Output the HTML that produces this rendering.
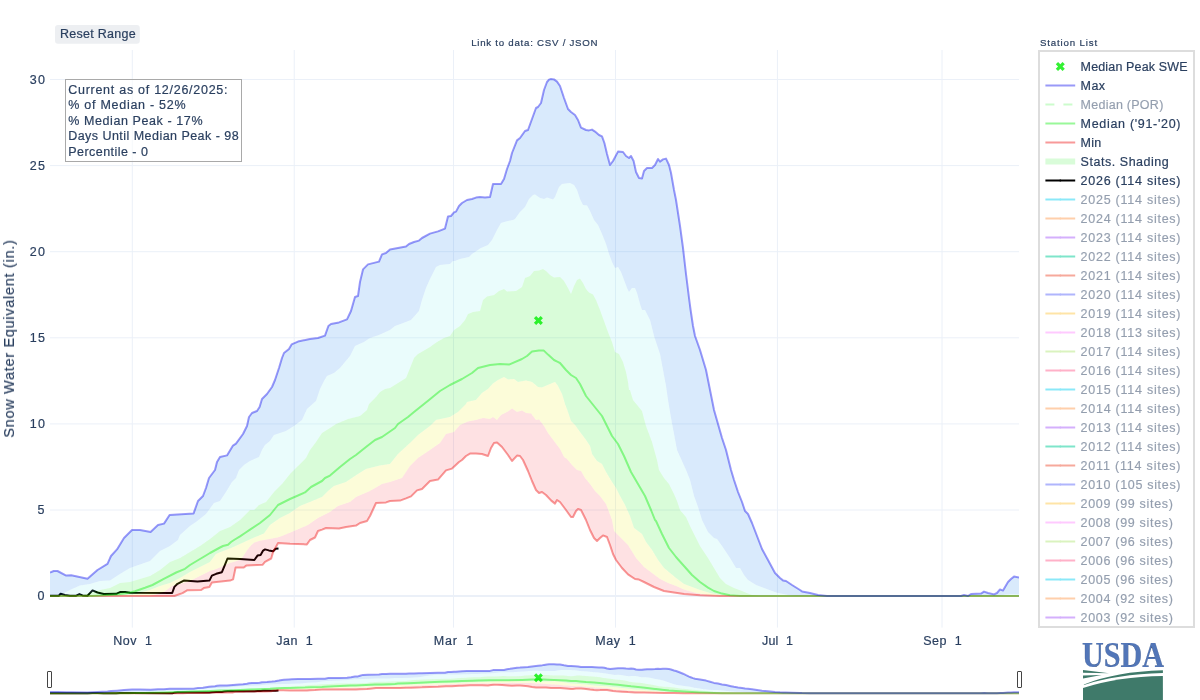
<!DOCTYPE html>
<html><head><meta charset="utf-8"><title>SWE</title>
<style>
html,body{margin:0;padding:0;background:#fff;}
svg{display:block;font-family:"Liberation Sans",sans-serif;}
text{white-space:pre;stroke:#2a3f5f;stroke-width:0.2px;}
</style></head><body>
<svg width="1200" height="700" viewBox="0 0 1200 700">
<rect width="1200" height="700" fill="#fff"/>
<defs>
<clipPath id="pc"><rect x="50" y="50" width="969" height="577.6"/></clipPath>
<clipPath id="sc"><rect x="50" y="662.6" width="969" height="32.5"/></clipPath>
<filter id="ga" filterUnits="userSpaceOnUse" x="0" y="0" width="1200" height="700" color-interpolation-filters="sRGB"><feOffset dx="0" dy="0"/></filter>
</defs>
<g filter="url(#ga)">
<g stroke="#EBF0F8" stroke-width="1">
<line x1="132.3" y1="50" x2="132.3" y2="627.6"/>
<line x1="294.24" y1="50" x2="294.24" y2="627.6"/>
<line x1="453.53" y1="50" x2="453.53" y2="627.6"/>
<line x1="615.47" y1="50" x2="615.47" y2="627.6"/>
<line x1="777.42" y1="50" x2="777.42" y2="627.6"/>
<line x1="942.01" y1="50" x2="942.01" y2="627.6"/>
<line x1="50" y1="79.5" x2="1019" y2="79.5"/>
<line x1="50" y1="165.6" x2="1019" y2="165.6"/>
<line x1="50" y1="251.7" x2="1019" y2="251.7"/>
<line x1="50" y1="337.8" x2="1019" y2="337.8"/>
<line x1="50" y1="423.9" x2="1019" y2="423.9"/>
<line x1="50" y1="510.0" x2="1019" y2="510.0"/>
<line x1="50" y1="596.1" x2="1019" y2="596.1" stroke-width="2"/>
</g>
<g clip-path="url(#pc)">
<path d="M50.0,595.7 L58.8,595.7 L60.6,593.8 L65.0,595.0 L70.0,595.7 L76.2,595.7 L79.4,594.1 L82.5,595.4 L87.5,595.7 L92.5,590.4 L97.5,592.5 L103.8,594.0 L116.2,593.8 L120.0,592.1 L125.0,591.9 L130.0,592.8 L172.2,593.0 L174.4,586.9 L177.5,583.8 L183.8,580.6 L197.5,581.5 L209.4,580.6 L211.9,575.6 L216.2,573.8 L221.9,572.2 L224.4,566.2 L227.5,558.5 L240.0,559.0 L254.4,560.0 L257.5,555.6 L260.6,555.0 L263.1,550.6 L265.0,549.4 L268.8,550.4 L273.1,551.2 L275.6,548.8 L278.5,548.5" fill="none" stroke="#000" stroke-width="2" stroke-linejoin="round"/>
<path d="M50.0,572.5 L53.8,571.0 L57.5,571.0 L66.2,575.6 L71.2,575.2 L87.5,578.8 L97.5,570.0 L107.5,563.8 L111.0,556.0 L117.0,549.4 L124.0,538.0 L132.0,530.0 L140.0,530.0 L150.6,532.0 L158.0,525.0 L164.0,523.6 L169.6,515.0 L193.6,513.4 L198.0,501.0 L203.0,496.0 L206.0,488.0 L209.0,478.0 L215.0,470.0 L217.0,462.0 L220.0,457.0 L227.0,455.4 L233.0,445.6 L236.0,443.6 L243.0,434.0 L247.0,426.0 L249.0,417.0 L252.0,413.0 L257.0,411.0 L259.6,407.0 L262.0,399.0 L267.0,394.0 L272.0,387.0 L275.0,380.0 L279.0,368.0 L282.0,358.0 L284.0,353.0 L289.0,349.0 L291.6,344.4 L298.0,341.6 L310.0,339.0 L318.0,338.0 L325.0,335.6 L328.4,326.0 L331.0,324.0 L339.0,322.4 L347.0,319.4 L351.0,311.0 L355.0,297.0 L358.0,296.0 L360.0,282.0 L363.0,269.4 L368.0,264.4 L379.0,261.6 L382.0,254.4 L386.0,253.0 L390.0,249.6 L398.0,248.0 L406.0,246.6 L409.0,244.0 L414.0,242.0 L419.0,240.6 L422.0,238.0 L430.0,233.6 L438.0,231.4 L445.0,228.6 L448.0,216.4 L451.0,216.0 L454.0,212.4 L456.0,211.6 L459.0,206.0 L462.0,203.0 L467.0,200.0 L472.0,199.0 L476.0,197.6 L480.0,197.0 L485.0,197.6 L490.0,197.0 L493.0,184.0 L501.0,184.0 L504.0,179.0 L507.0,169.0 L510.0,161.0 L512.0,153.0 L517.0,140.4 L520.0,138.0 L525.0,131.0 L528.0,130.0 L532.0,119.0 L536.0,108.0 L538.0,107.0 L541.0,103.0 L544.0,90.0 L547.0,82.0 L549.0,79.6 L551.0,79.0 L554.0,79.4 L557.0,81.6 L560.0,86.0 L564.0,98.0 L568.0,109.0 L571.0,112.0 L575.0,115.0 L578.0,120.0 L581.0,127.6 L586.0,130.0 L589.0,130.4 L592.0,129.6 L595.0,131.6 L599.0,135.0 L602.0,136.4 L604.4,143.0 L607.0,154.0 L610.0,165.0 L613.0,161.0 L618.0,151.6 L623.0,152.0 L626.0,156.0 L629.0,158.0 L631.0,156.0 L633.6,161.0 L636.0,172.0 L639.0,178.0 L642.0,178.4 L644.0,171.0 L647.0,168.0 L652.0,168.0 L655.0,165.0 L658.0,159.0 L660.0,161.6 L663.0,159.4 L666.0,158.6 L669.0,165.0 L671.0,173.0 L674.0,190.0 L676.0,200.0 L680.0,226.0 L683.0,248.0 L686.0,274.0 L689.0,298.0 L690.6,310.0 L693.0,326.0 L695.0,336.0 L700.0,350.0 L706.0,370.0 L710.0,390.0 L714.0,410.0 L718.0,424.0 L722.0,438.0 L726.0,450.0 L731.0,470.0 L734.0,480.0 L738.0,492.0 L742.0,502.0 L745.0,511.0 L748.0,514.0 L752.0,523.0 L757.0,536.0 L762.0,549.0 L768.0,560.0 L775.0,573.0 L780.0,578.0 L783.0,580.4 L786.0,581.0 L792.0,585.0 L800.0,590.0 L802.0,591.4 L810.0,593.0 L818.0,595.0 L827.0,596.0 L961.0,596.0 L964.0,595.0 L968.0,596.0 L971.0,594.0 L981.0,593.6 L984.0,591.6 L988.0,593.0 L994.0,594.4 L997.0,593.0 L1000.0,589.4 L1003.0,590.6 L1008.0,582.0 L1011.0,579.0 L1014.0,576.6 L1019.0,577.4 L1019.0,594.4 L1012.0,594.2 L1005.0,594.7 L998.0,596.0 L810.0,596.0 L796.0,596.0 L788.0,595.0 L778.0,593.0 L772.0,591.0 L764.0,588.0 L756.0,585.0 L748.0,580.0 L744.0,575.0 L740.0,568.0 L736.0,568.0 L730.0,558.0 L722.0,546.0 L717.0,539.0 L714.0,538.0 L708.0,532.0 L702.0,520.0 L698.0,507.0 L694.0,496.0 L690.0,480.0 L686.0,470.0 L677.0,450.0 L674.0,434.0 L671.0,418.0 L668.0,400.0 L666.0,386.0 L663.0,370.0 L660.0,354.0 L654.0,336.0 L650.0,320.0 L648.0,316.0 L645.0,310.0 L642.0,310.0 L640.0,304.0 L637.0,293.0 L635.0,288.0 L632.0,288.0 L629.0,292.0 L627.0,288.0 L624.0,280.0 L621.0,272.0 L618.0,267.0 L615.0,268.0 L612.0,262.0 L609.0,254.0 L606.0,244.0 L602.0,234.0 L598.0,225.0 L594.0,220.0 L590.0,211.0 L587.0,205.6 L583.0,205.0 L580.0,199.0 L577.0,190.0 L574.0,185.0 L570.0,183.0 L562.0,184.0 L559.0,187.0 L555.0,197.0 L553.0,199.6 L550.0,198.6 L547.0,197.6 L544.0,199.0 L540.0,198.0 L535.0,194.4 L533.0,195.0 L529.0,199.0 L525.0,207.0 L520.0,212.0 L515.0,219.0 L513.0,220.0 L508.0,221.0 L501.0,223.0 L497.0,230.0 L492.0,240.0 L488.0,245.0 L480.0,248.4 L478.0,250.0 L472.0,254.0 L469.0,257.0 L460.0,259.0 L455.0,261.0 L453.0,261.0 L450.0,264.0 L440.0,265.0 L436.0,267.0 L430.0,279.0 L426.0,288.0 L422.0,300.0 L419.0,311.0 L411.0,320.0 L402.0,323.6 L395.0,326.0 L390.0,330.0 L379.0,335.0 L370.0,338.0 L364.0,342.0 L355.0,346.0 L350.0,356.0 L345.0,362.0 L340.0,368.0 L334.0,373.0 L327.0,376.0 L324.0,381.0 L320.0,389.0 L316.0,401.0 L307.0,409.0 L302.0,420.0 L294.0,426.0 L286.0,431.0 L274.0,435.0 L270.0,441.0 L265.0,445.0 L262.0,450.0 L259.0,457.0 L250.0,461.0 L244.0,465.0 L239.0,470.0 L236.0,478.0 L232.0,482.0 L226.0,492.0 L220.0,501.0 L214.0,503.0 L206.0,514.0 L196.0,522.0 L190.0,526.0 L180.0,535.0 L178.0,540.0 L170.0,546.0 L160.0,551.0 L155.0,556.0 L150.0,561.0 L140.0,564.4 L130.0,568.0 L120.0,574.0 L110.0,580.4 L100.0,581.0 L90.0,584.0 L80.0,585.6 L70.0,590.0 L60.0,595.0 L50.0,596.0Z" fill="rgba(0,115,237,0.15)" stroke="none"/>
<path d="M50.0,596.0 L60.0,595.0 L70.0,590.0 L80.0,585.6 L90.0,584.0 L100.0,581.0 L110.0,580.4 L120.0,574.0 L130.0,568.0 L140.0,564.4 L150.0,561.0 L155.0,556.0 L160.0,551.0 L170.0,546.0 L178.0,540.0 L180.0,535.0 L190.0,526.0 L196.0,522.0 L206.0,514.0 L214.0,503.0 L220.0,501.0 L226.0,492.0 L232.0,482.0 L236.0,478.0 L239.0,470.0 L244.0,465.0 L250.0,461.0 L259.0,457.0 L262.0,450.0 L265.0,445.0 L270.0,441.0 L274.0,435.0 L286.0,431.0 L294.0,426.0 L302.0,420.0 L307.0,409.0 L316.0,401.0 L320.0,389.0 L324.0,381.0 L327.0,376.0 L334.0,373.0 L340.0,368.0 L345.0,362.0 L350.0,356.0 L355.0,346.0 L364.0,342.0 L370.0,338.0 L379.0,335.0 L390.0,330.0 L395.0,326.0 L402.0,323.6 L411.0,320.0 L419.0,311.0 L422.0,300.0 L426.0,288.0 L430.0,279.0 L436.0,267.0 L440.0,265.0 L450.0,264.0 L453.0,261.0 L455.0,261.0 L460.0,259.0 L469.0,257.0 L472.0,254.0 L478.0,250.0 L480.0,248.4 L488.0,245.0 L492.0,240.0 L497.0,230.0 L501.0,223.0 L508.0,221.0 L513.0,220.0 L515.0,219.0 L520.0,212.0 L525.0,207.0 L529.0,199.0 L533.0,195.0 L535.0,194.4 L540.0,198.0 L544.0,199.0 L547.0,197.6 L550.0,198.6 L553.0,199.6 L555.0,197.0 L559.0,187.0 L562.0,184.0 L570.0,183.0 L574.0,185.0 L577.0,190.0 L580.0,199.0 L583.0,205.0 L587.0,205.6 L590.0,211.0 L594.0,220.0 L598.0,225.0 L602.0,234.0 L606.0,244.0 L609.0,254.0 L612.0,262.0 L615.0,268.0 L618.0,267.0 L621.0,272.0 L624.0,280.0 L627.0,288.0 L629.0,292.0 L632.0,288.0 L635.0,288.0 L637.0,293.0 L640.0,304.0 L642.0,310.0 L645.0,310.0 L648.0,316.0 L650.0,320.0 L654.0,336.0 L660.0,354.0 L663.0,370.0 L666.0,386.0 L668.0,400.0 L671.0,418.0 L674.0,434.0 L677.0,450.0 L686.0,470.0 L690.0,480.0 L694.0,496.0 L698.0,507.0 L702.0,520.0 L708.0,532.0 L714.0,538.0 L717.0,539.0 L722.0,546.0 L730.0,558.0 L736.0,568.0 L740.0,568.0 L744.0,575.0 L748.0,580.0 L756.0,585.0 L764.0,588.0 L772.0,591.0 L778.0,593.0 L788.0,595.0 L796.0,596.0 L810.0,596.0 L998.0,596.0 L1005.0,594.7 L1012.0,594.2 L1019.0,594.4 L1019.0,596.0 L780.0,596.0 L760.0,596.0 L752.0,595.0 L748.0,593.4 L742.0,591.0 L734.0,588.0 L726.0,584.0 L720.0,578.0 L714.0,568.0 L708.0,558.0 L700.0,546.0 L696.0,538.0 L690.0,526.0 L686.0,517.0 L680.0,510.0 L677.0,501.0 L674.0,494.0 L669.0,484.0 L664.0,478.0 L659.0,470.0 L657.0,460.0 L652.0,442.0 L646.0,426.0 L642.0,411.0 L633.0,400.0 L630.0,390.0 L629.0,390.0 L628.0,382.0 L626.0,372.0 L623.0,362.0 L619.0,354.0 L615.0,352.0 L612.0,342.0 L608.0,332.0 L604.0,321.0 L600.0,310.0 L596.0,300.0 L593.0,294.4 L589.0,292.4 L586.0,289.0 L583.0,283.0 L580.0,278.4 L577.0,280.0 L574.0,286.0 L571.0,294.0 L568.0,288.0 L564.0,281.0 L560.0,277.0 L554.0,277.6 L550.0,275.0 L546.0,271.0 L543.0,269.0 L539.0,270.4 L534.0,271.0 L530.0,276.0 L525.0,278.0 L522.0,287.0 L516.0,291.0 L507.0,291.6 L504.0,289.0 L499.0,291.0 L494.0,295.0 L487.0,296.4 L483.0,300.0 L480.0,311.0 L473.0,312.0 L468.0,314.0 L465.0,320.0 L460.0,326.0 L454.0,330.0 L450.0,336.0 L444.0,338.0 L437.0,342.0 L430.0,347.0 L418.0,354.0 L414.0,358.0 L410.0,368.0 L406.0,378.0 L398.0,383.0 L390.0,388.0 L385.0,389.0 L380.0,392.0 L376.0,397.0 L369.0,404.0 L367.0,410.0 L360.0,416.0 L348.0,419.0 L336.0,424.0 L330.0,428.0 L322.0,433.0 L316.0,442.0 L310.0,450.0 L306.0,458.0 L298.0,466.0 L290.0,474.0 L282.0,484.0 L274.0,492.0 L266.0,502.0 L259.0,505.0 L254.0,510.0 L250.0,510.0 L240.0,520.0 L230.0,527.0 L220.0,531.0 L210.0,539.0 L200.0,546.0 L190.0,552.0 L180.0,558.0 L170.0,562.0 L160.0,570.0 L150.0,576.0 L140.0,579.0 L130.0,582.0 L120.0,583.0 L110.0,588.0 L100.0,590.0 L86.0,594.0 L80.0,595.0 L50.0,596.0Z" fill="rgba(115,237,237,0.15)" stroke="none"/>
<path d="M50.0,596.0 L80.0,595.0 L86.0,594.0 L100.0,590.0 L110.0,588.0 L120.0,583.0 L130.0,582.0 L140.0,579.0 L150.0,576.0 L160.0,570.0 L170.0,562.0 L180.0,558.0 L190.0,552.0 L200.0,546.0 L210.0,539.0 L220.0,531.0 L230.0,527.0 L240.0,520.0 L250.0,510.0 L254.0,510.0 L259.0,505.0 L266.0,502.0 L274.0,492.0 L282.0,484.0 L290.0,474.0 L298.0,466.0 L306.0,458.0 L310.0,450.0 L316.0,442.0 L322.0,433.0 L330.0,428.0 L336.0,424.0 L348.0,419.0 L360.0,416.0 L367.0,410.0 L369.0,404.0 L376.0,397.0 L380.0,392.0 L385.0,389.0 L390.0,388.0 L398.0,383.0 L406.0,378.0 L410.0,368.0 L414.0,358.0 L418.0,354.0 L430.0,347.0 L437.0,342.0 L444.0,338.0 L450.0,336.0 L454.0,330.0 L460.0,326.0 L465.0,320.0 L468.0,314.0 L473.0,312.0 L480.0,311.0 L483.0,300.0 L487.0,296.4 L494.0,295.0 L499.0,291.0 L504.0,289.0 L507.0,291.6 L516.0,291.0 L522.0,287.0 L525.0,278.0 L530.0,276.0 L534.0,271.0 L539.0,270.4 L543.0,269.0 L546.0,271.0 L550.0,275.0 L554.0,277.6 L560.0,277.0 L564.0,281.0 L568.0,288.0 L571.0,294.0 L574.0,286.0 L577.0,280.0 L580.0,278.4 L583.0,283.0 L586.0,289.0 L589.0,292.4 L593.0,294.4 L596.0,300.0 L600.0,310.0 L604.0,321.0 L608.0,332.0 L612.0,342.0 L615.0,352.0 L619.0,354.0 L623.0,362.0 L626.0,372.0 L628.0,382.0 L629.0,390.0 L630.0,390.0 L633.0,400.0 L642.0,411.0 L646.0,426.0 L652.0,442.0 L657.0,460.0 L659.0,470.0 L664.0,478.0 L669.0,484.0 L674.0,494.0 L677.0,501.0 L680.0,510.0 L686.0,517.0 L690.0,526.0 L696.0,538.0 L700.0,546.0 L708.0,558.0 L714.0,568.0 L720.0,578.0 L726.0,584.0 L734.0,588.0 L742.0,591.0 L748.0,593.4 L752.0,595.0 L760.0,596.0 L780.0,596.0 L1019.0,596.0 L1019.0,596.0 L740.0,596.0 L730.0,596.0 L720.0,595.0 L710.0,593.0 L700.0,590.0 L692.0,587.0 L684.0,584.0 L676.0,578.0 L670.0,573.0 L664.0,568.0 L658.0,560.0 L652.0,550.0 L646.0,542.0 L642.0,534.0 L634.0,528.0 L630.0,516.0 L629.0,514.0 L625.0,505.0 L620.0,496.0 L616.0,488.0 L612.0,482.0 L606.0,472.0 L602.0,464.0 L597.0,461.0 L592.0,454.0 L590.0,446.0 L586.0,440.0 L580.0,432.0 L575.0,425.0 L571.0,421.0 L568.0,412.0 L565.0,404.0 L562.0,394.0 L558.0,386.0 L555.0,382.0 L550.0,384.0 L542.0,387.6 L538.0,387.0 L532.0,382.0 L526.0,380.4 L518.0,382.0 L514.0,379.0 L508.0,379.6 L504.0,377.0 L498.0,380.0 L493.0,383.6 L488.0,389.0 L482.0,393.0 L476.0,400.0 L467.0,402.0 L466.0,404.0 L458.0,412.0 L450.0,417.0 L436.0,420.0 L430.0,426.0 L418.0,435.0 L410.0,443.0 L398.0,454.0 L390.0,464.0 L380.0,465.6 L366.0,469.0 L358.0,474.0 L352.0,478.0 L346.0,482.0 L334.0,486.0 L328.0,491.0 L322.0,497.0 L310.0,502.0 L300.0,506.0 L290.0,513.0 L280.0,518.0 L270.0,525.0 L264.0,533.6 L258.0,536.0 L252.0,538.5 L246.0,541.3 L240.0,544.0 L234.0,546.8 L228.0,549.3 L222.0,551.5 L216.0,554.0 L210.0,562.0 L200.0,567.0 L190.0,572.0 L180.0,578.0 L170.0,583.0 L160.0,586.0 L150.0,590.0 L136.0,594.0 L125.0,595.2 L112.0,596.0 L50.0,596.0Z" fill="rgba(0,237,0,0.15)" stroke="none"/>
<path d="M50.0,596.0 L112.0,596.0 L125.0,595.2 L136.0,594.0 L150.0,590.0 L160.0,586.0 L170.0,583.0 L180.0,578.0 L190.0,572.0 L200.0,567.0 L210.0,562.0 L216.0,554.0 L222.0,551.5 L228.0,549.3 L234.0,546.8 L240.0,544.0 L246.0,541.3 L252.0,538.5 L258.0,536.0 L264.0,533.6 L270.0,525.0 L280.0,518.0 L290.0,513.0 L300.0,506.0 L310.0,502.0 L322.0,497.0 L328.0,491.0 L334.0,486.0 L346.0,482.0 L352.0,478.0 L358.0,474.0 L366.0,469.0 L380.0,465.6 L390.0,464.0 L398.0,454.0 L410.0,443.0 L418.0,435.0 L430.0,426.0 L436.0,420.0 L450.0,417.0 L458.0,412.0 L466.0,404.0 L467.0,402.0 L476.0,400.0 L482.0,393.0 L488.0,389.0 L493.0,383.6 L498.0,380.0 L504.0,377.0 L508.0,379.6 L514.0,379.0 L518.0,382.0 L526.0,380.4 L532.0,382.0 L538.0,387.0 L542.0,387.6 L550.0,384.0 L555.0,382.0 L558.0,386.0 L562.0,394.0 L565.0,404.0 L568.0,412.0 L571.0,421.0 L575.0,425.0 L580.0,432.0 L586.0,440.0 L590.0,446.0 L592.0,454.0 L597.0,461.0 L602.0,464.0 L606.0,472.0 L612.0,482.0 L616.0,488.0 L620.0,496.0 L625.0,505.0 L629.0,514.0 L630.0,516.0 L634.0,528.0 L642.0,534.0 L646.0,542.0 L652.0,550.0 L658.0,560.0 L664.0,568.0 L670.0,573.0 L676.0,578.0 L684.0,584.0 L692.0,587.0 L700.0,590.0 L710.0,593.0 L720.0,595.0 L730.0,596.0 L740.0,596.0 L1019.0,596.0 L1019.0,596.0 L730.0,596.0 L720.0,596.0 L708.0,595.0 L696.0,593.0 L684.0,589.6 L676.0,586.0 L668.0,583.0 L660.0,579.0 L652.0,573.0 L644.0,567.0 L636.0,558.0 L628.0,545.0 L622.0,539.0 L614.0,531.0 L612.0,520.0 L609.0,512.0 L606.0,504.0 L600.0,496.0 L595.0,491.0 L590.0,484.0 L585.0,478.0 L581.0,471.0 L577.0,470.0 L572.0,465.0 L567.0,459.0 L564.0,457.0 L560.0,449.0 L554.0,441.0 L548.0,433.0 L544.0,426.0 L539.0,419.6 L536.0,420.0 L531.0,413.6 L526.0,413.0 L522.0,410.4 L517.0,412.0 L512.0,408.6 L508.0,411.6 L501.0,415.0 L497.0,420.0 L493.0,417.0 L490.0,419.0 L483.0,418.0 L476.0,420.0 L468.0,421.6 L460.0,425.0 L454.0,432.0 L446.0,434.0 L440.0,443.0 L430.0,450.0 L418.0,458.0 L410.0,466.0 L402.0,478.0 L390.0,482.0 L382.0,484.0 L370.0,491.0 L356.0,497.0 L350.0,502.0 L338.0,506.0 L330.0,512.0 L318.0,518.0 L308.0,525.0 L294.0,531.0 L282.0,536.0 L277.5,537.5 L264.0,540.0 L259.0,541.0 L254.0,542.8 L251.0,545.5 L248.0,549.0 L245.0,553.5 L242.0,558.0 L240.0,559.8 L236.0,561.3 L230.0,563.0 L225.0,565.0 L220.0,567.5 L215.0,569.5 L210.0,571.0 L200.0,576.0 L190.0,581.0 L180.0,584.0 L172.0,586.0 L164.0,592.0 L150.0,596.0 L50.0,596.0Z" fill="rgba(237,237,0,0.15)" stroke="none"/>
<path d="M50.0,596.0 L150.0,596.0 L164.0,592.0 L172.0,586.0 L180.0,584.0 L190.0,581.0 L200.0,576.0 L210.0,571.0 L215.0,569.5 L220.0,567.5 L225.0,565.0 L230.0,563.0 L236.0,561.3 L240.0,559.8 L242.0,558.0 L245.0,553.5 L248.0,549.0 L251.0,545.5 L254.0,542.8 L259.0,541.0 L264.0,540.0 L277.5,537.5 L282.0,536.0 L294.0,531.0 L308.0,525.0 L318.0,518.0 L330.0,512.0 L338.0,506.0 L350.0,502.0 L356.0,497.0 L370.0,491.0 L382.0,484.0 L390.0,482.0 L402.0,478.0 L410.0,466.0 L418.0,458.0 L430.0,450.0 L440.0,443.0 L446.0,434.0 L454.0,432.0 L460.0,425.0 L468.0,421.6 L476.0,420.0 L483.0,418.0 L490.0,419.0 L493.0,417.0 L497.0,420.0 L501.0,415.0 L508.0,411.6 L512.0,408.6 L517.0,412.0 L522.0,410.4 L526.0,413.0 L531.0,413.6 L536.0,420.0 L539.0,419.6 L544.0,426.0 L548.0,433.0 L554.0,441.0 L560.0,449.0 L564.0,457.0 L567.0,459.0 L572.0,465.0 L577.0,470.0 L581.0,471.0 L585.0,478.0 L590.0,484.0 L595.0,491.0 L600.0,496.0 L606.0,504.0 L609.0,512.0 L612.0,520.0 L614.0,531.0 L622.0,539.0 L628.0,545.0 L636.0,558.0 L644.0,567.0 L652.0,573.0 L660.0,579.0 L668.0,583.0 L676.0,586.0 L684.0,589.6 L696.0,593.0 L708.0,595.0 L720.0,596.0 L730.0,596.0 L1019.0,596.0 L1019.0,596.0 L730.0,596.0 L720.0,596.0 L700.0,595.2 L684.0,594.0 L674.0,592.4 L664.0,591.0 L654.0,587.0 L644.0,582.0 L639.0,579.6 L635.0,579.0 L628.0,574.4 L622.0,568.0 L616.0,560.0 L613.0,554.0 L610.0,545.0 L607.0,537.0 L603.0,535.4 L600.0,538.0 L597.0,541.0 L594.0,538.0 L590.0,530.0 L586.0,520.0 L584.0,516.0 L581.0,510.0 L578.0,509.0 L576.0,511.0 L573.0,517.0 L571.0,517.0 L566.0,510.0 L560.0,502.0 L557.0,500.0 L555.0,503.6 L551.0,500.4 L546.0,495.0 L542.0,492.0 L539.0,493.0 L536.0,490.0 L532.0,481.0 L528.0,471.0 L523.0,460.0 L520.0,456.0 L517.0,455.6 L512.0,461.0 L508.0,455.0 L502.0,447.0 L497.0,442.4 L494.0,443.0 L491.0,448.0 L488.0,456.0 L482.0,454.0 L476.0,453.6 L470.0,453.6 L466.0,456.0 L462.0,460.0 L459.0,462.0 L452.0,468.6 L446.0,470.4 L438.0,479.6 L430.0,481.0 L422.0,489.0 L417.0,490.4 L411.0,496.4 L406.0,498.4 L400.0,500.6 L390.0,501.0 L386.0,502.4 L376.0,503.0 L370.0,516.0 L367.0,521.0 L360.0,523.0 L356.0,525.6 L346.0,527.0 L339.0,528.4 L326.0,528.0 L322.0,529.6 L318.0,531.0 L315.0,537.5 L310.0,540.0 L306.9,544.4 L290.0,543.8 L278.1,543.1 L273.1,551.9 L271.2,558.5 L265.0,561.9 L262.5,564.8 L246.2,565.6 L243.8,567.5 L235.6,567.5 L233.1,579.4 L230.0,580.6 L211.9,582.5 L209.4,586.9 L203.8,588.1 L201.2,590.0 L187.5,590.2 L182.5,593.1 L174.4,596.0 L172.0,596.0 L50.0,596.0Z" fill="rgba(247,5,22,0.12)" stroke="none"/>
<path d="M50.0,596.0 L172.0,596.0 L174.4,596.0 L182.5,593.1 L187.5,590.2 L201.2,590.0 L203.8,588.1 L209.4,586.9 L211.9,582.5 L230.0,580.6 L233.1,579.4 L235.6,567.5 L243.8,567.5 L246.2,565.6 L262.5,564.8 L265.0,561.9 L271.2,558.5 L273.1,551.9 L278.1,543.1 L290.0,543.8 L306.9,544.4 L310.0,540.0 L315.0,537.5 L318.0,531.0 L322.0,529.6 L326.0,528.0 L339.0,528.4 L346.0,527.0 L356.0,525.6 L360.0,523.0 L367.0,521.0 L370.0,516.0 L376.0,503.0 L386.0,502.4 L390.0,501.0 L400.0,500.6 L406.0,498.4 L411.0,496.4 L417.0,490.4 L422.0,489.0 L430.0,481.0 L438.0,479.6 L446.0,470.4 L452.0,468.6 L459.0,462.0 L462.0,460.0 L466.0,456.0 L470.0,453.6 L476.0,453.6 L482.0,454.0 L488.0,456.0 L491.0,448.0 L494.0,443.0 L497.0,442.4 L502.0,447.0 L508.0,455.0 L512.0,461.0 L517.0,455.6 L520.0,456.0 L523.0,460.0 L528.0,471.0 L532.0,481.0 L536.0,490.0 L539.0,493.0 L542.0,492.0 L546.0,495.0 L551.0,500.4 L555.0,503.6 L557.0,500.0 L560.0,502.0 L566.0,510.0 L571.0,517.0 L573.0,517.0 L576.0,511.0 L578.0,509.0 L581.0,510.0 L584.0,516.0 L586.0,520.0 L590.0,530.0 L594.0,538.0 L597.0,541.0 L600.0,538.0 L603.0,535.4 L607.0,537.0 L610.0,545.0 L613.0,554.0 L616.0,560.0 L622.0,568.0 L628.0,574.4 L635.0,579.0 L639.0,579.6 L644.0,582.0 L654.0,587.0 L664.0,591.0 L674.0,592.4 L684.0,594.0 L700.0,595.2 L720.0,596.0 L730.0,596.0 L1019.0,596.0" fill="none" stroke="rgba(237,0,0,0.4)" stroke-width="2" stroke-linejoin="round"/>
<path d="M50.0,596.0 L92.0,596.0 L105.0,595.2 L118.0,594.2 L128.0,593.0 L135.0,591.2 L145.0,587.8 L152.5,585.0 L163.8,578.8 L176.2,572.5 L185.0,568.8 L190.0,565.0 L200.0,559.0 L210.0,553.0 L220.0,547.5 L223.0,546.0 L228.0,544.7 L231.0,542.0 L234.0,540.0 L240.0,536.4 L245.0,533.0 L250.0,529.6 L260.0,523.0 L270.0,515.0 L278.0,505.0 L290.0,499.0 L305.0,492.4 L311.0,487.0 L322.0,481.0 L325.0,478.0 L330.0,475.6 L340.0,467.0 L350.0,459.0 L356.0,455.0 L366.0,447.0 L375.0,440.0 L382.0,437.0 L395.0,428.0 L398.0,424.0 L408.0,417.0 L414.0,412.0 L429.0,400.0 L440.0,391.0 L450.0,385.0 L462.0,379.0 L472.0,373.0 L478.0,368.0 L490.0,365.0 L500.0,364.0 L509.0,364.6 L522.0,359.0 L527.0,356.0 L532.0,351.6 L539.0,350.4 L543.6,350.4 L548.0,354.6 L554.0,360.0 L560.0,363.0 L566.0,370.0 L571.0,375.0 L576.0,378.0 L580.0,384.0 L583.0,390.0 L586.0,396.0 L594.0,406.0 L602.0,416.0 L607.0,426.0 L612.0,436.0 L618.0,444.0 L624.0,456.0 L631.0,472.0 L638.0,484.0 L645.0,496.0 L651.0,510.0 L655.0,520.0 L656.0,521.0 L662.0,534.0 L669.0,548.0 L676.0,557.0 L684.0,566.0 L692.0,575.0 L700.0,582.0 L708.0,587.6 L714.0,591.0 L722.0,593.6 L730.0,595.2 L740.0,596.0 L745.0,596.0 L1019.0,596.0" fill="none" stroke="rgba(0,237,0,0.4)" stroke-width="2" stroke-linejoin="round"/>
<path d="M50.0,572.5 L53.8,571.0 L57.5,571.0 L66.2,575.6 L71.2,575.2 L87.5,578.8 L97.5,570.0 L107.5,563.8 L111.0,556.0 L117.0,549.4 L124.0,538.0 L132.0,530.0 L140.0,530.0 L150.6,532.0 L158.0,525.0 L164.0,523.6 L169.6,515.0 L193.6,513.4 L198.0,501.0 L203.0,496.0 L206.0,488.0 L209.0,478.0 L215.0,470.0 L217.0,462.0 L220.0,457.0 L227.0,455.4 L233.0,445.6 L236.0,443.6 L243.0,434.0 L247.0,426.0 L249.0,417.0 L252.0,413.0 L257.0,411.0 L259.6,407.0 L262.0,399.0 L267.0,394.0 L272.0,387.0 L275.0,380.0 L279.0,368.0 L282.0,358.0 L284.0,353.0 L289.0,349.0 L291.6,344.4 L298.0,341.6 L310.0,339.0 L318.0,338.0 L325.0,335.6 L328.4,326.0 L331.0,324.0 L339.0,322.4 L347.0,319.4 L351.0,311.0 L355.0,297.0 L358.0,296.0 L360.0,282.0 L363.0,269.4 L368.0,264.4 L379.0,261.6 L382.0,254.4 L386.0,253.0 L390.0,249.6 L398.0,248.0 L406.0,246.6 L409.0,244.0 L414.0,242.0 L419.0,240.6 L422.0,238.0 L430.0,233.6 L438.0,231.4 L445.0,228.6 L448.0,216.4 L451.0,216.0 L454.0,212.4 L456.0,211.6 L459.0,206.0 L462.0,203.0 L467.0,200.0 L472.0,199.0 L476.0,197.6 L480.0,197.0 L485.0,197.6 L490.0,197.0 L493.0,184.0 L501.0,184.0 L504.0,179.0 L507.0,169.0 L510.0,161.0 L512.0,153.0 L517.0,140.4 L520.0,138.0 L525.0,131.0 L528.0,130.0 L532.0,119.0 L536.0,108.0 L538.0,107.0 L541.0,103.0 L544.0,90.0 L547.0,82.0 L549.0,79.6 L551.0,79.0 L554.0,79.4 L557.0,81.6 L560.0,86.0 L564.0,98.0 L568.0,109.0 L571.0,112.0 L575.0,115.0 L578.0,120.0 L581.0,127.6 L586.0,130.0 L589.0,130.4 L592.0,129.6 L595.0,131.6 L599.0,135.0 L602.0,136.4 L604.4,143.0 L607.0,154.0 L610.0,165.0 L613.0,161.0 L618.0,151.6 L623.0,152.0 L626.0,156.0 L629.0,158.0 L631.0,156.0 L633.6,161.0 L636.0,172.0 L639.0,178.0 L642.0,178.4 L644.0,171.0 L647.0,168.0 L652.0,168.0 L655.0,165.0 L658.0,159.0 L660.0,161.6 L663.0,159.4 L666.0,158.6 L669.0,165.0 L671.0,173.0 L674.0,190.0 L676.0,200.0 L680.0,226.0 L683.0,248.0 L686.0,274.0 L689.0,298.0 L690.6,310.0 L693.0,326.0 L695.0,336.0 L700.0,350.0 L706.0,370.0 L710.0,390.0 L714.0,410.0 L718.0,424.0 L722.0,438.0 L726.0,450.0 L731.0,470.0 L734.0,480.0 L738.0,492.0 L742.0,502.0 L745.0,511.0 L748.0,514.0 L752.0,523.0 L757.0,536.0 L762.0,549.0 L768.0,560.0 L775.0,573.0 L780.0,578.0 L783.0,580.4 L786.0,581.0 L792.0,585.0 L800.0,590.0 L802.0,591.4 L810.0,593.0 L818.0,595.0 L827.0,596.0 L961.0,596.0 L964.0,595.0 L968.0,596.0 L971.0,594.0 L981.0,593.6 L984.0,591.6 L988.0,593.0 L994.0,594.4 L997.0,593.0 L1000.0,589.4 L1003.0,590.6 L1008.0,582.0 L1011.0,579.0 L1014.0,576.6 L1019.0,577.4" fill="none" stroke="rgba(0,0,237,0.4)" stroke-width="2" stroke-linejoin="round"/>
<path d="M538.40,322.66 L540.66,324.92 L542.92,322.66 L540.66,320.40 L542.92,318.14 L540.66,315.88 L538.40,318.14 L536.14,315.88 L533.88,318.14 L536.14,320.40 L533.88,322.66 L536.14,324.92Z" fill="rgba(0,237,0,0.8)"/>
</g>
<g clip-path="url(#sc)">
<path d="M50.0,693.3 L58.8,693.3 L60.6,693.2 L65.0,693.3 L70.0,693.3 L76.2,693.3 L79.4,693.2 L82.5,693.3 L87.5,693.3 L92.5,693.0 L97.5,693.1 L103.8,693.2 L116.2,693.2 L120.0,693.1 L125.0,693.1 L130.0,693.1 L172.2,693.2 L174.4,692.8 L177.5,692.6 L183.8,692.5 L197.5,692.5 L209.4,692.5 L211.9,692.2 L216.2,692.1 L221.9,692.0 L224.4,691.6 L227.5,691.2 L240.0,691.2 L254.4,691.3 L257.5,691.1 L260.6,691.0 L263.1,690.8 L265.0,690.7 L268.8,690.8 L273.1,690.8 L275.6,690.7 L278.5,690.6" fill="none" stroke="#000" stroke-width="2" stroke-linejoin="round"/>
<path d="M50.0,692.0 L53.8,691.9 L57.5,691.9 L66.2,692.2 L71.2,692.2 L87.5,692.4 L97.5,691.9 L107.5,691.5 L111.0,691.1 L117.0,690.7 L124.0,690.1 L132.0,689.6 L140.0,689.6 L150.6,689.7 L158.0,689.3 L164.0,689.2 L169.6,688.8 L193.6,688.7 L198.0,688.0 L203.0,687.7 L206.0,687.2 L209.0,686.7 L215.0,686.2 L217.0,685.8 L220.0,685.5 L227.0,685.4 L233.0,684.9 L236.0,684.7 L243.0,684.2 L247.0,683.8 L249.0,683.3 L252.0,683.0 L257.0,682.9 L259.6,682.7 L262.0,682.2 L267.0,682.0 L272.0,681.6 L275.0,681.2 L279.0,680.5 L282.0,679.9 L284.0,679.7 L289.0,679.4 L291.6,679.2 L298.0,679.0 L310.0,678.9 L318.0,678.8 L325.0,678.7 L328.4,678.1 L331.0,678.0 L339.0,677.9 L347.0,677.8 L351.0,677.3 L355.0,676.5 L358.0,676.4 L360.0,675.7 L363.0,674.9 L368.0,674.7 L379.0,674.5 L382.0,674.1 L386.0,674.0 L390.0,673.8 L398.0,673.7 L406.0,673.7 L409.0,673.5 L414.0,673.4 L419.0,673.3 L422.0,673.2 L430.0,672.9 L438.0,672.8 L445.0,672.7 L448.0,672.0 L451.0,671.9 L454.0,671.7 L456.0,671.7 L459.0,671.4 L462.0,671.2 L467.0,671.0 L472.0,671.0 L476.0,670.9 L480.0,670.9 L485.0,670.9 L490.0,670.9 L493.0,670.1 L501.0,670.1 L504.0,669.9 L507.0,669.3 L510.0,668.8 L512.0,668.4 L517.0,667.7 L520.0,667.6 L525.0,667.2 L528.0,667.1 L532.0,666.5 L536.0,665.9 L538.0,665.8 L541.0,665.6 L544.0,664.9 L547.0,664.4 L549.0,664.3 L551.0,664.2 L554.0,664.3 L557.0,664.4 L560.0,664.6 L564.0,665.3 L568.0,665.9 L571.0,666.1 L575.0,666.3 L578.0,666.5 L581.0,667.0 L586.0,667.1 L589.0,667.1 L592.0,667.1 L595.0,667.2 L599.0,667.4 L602.0,667.5 L604.4,667.8 L607.0,668.5 L610.0,669.1 L613.0,668.8 L618.0,668.3 L623.0,668.3 L626.0,668.6 L629.0,668.7 L631.0,668.6 L633.6,668.8 L636.0,669.5 L639.0,669.8 L642.0,669.8 L644.0,669.4 L647.0,669.2 L652.0,669.2 L655.0,669.1 L658.0,668.7 L660.0,668.9 L663.0,668.8 L666.0,668.7 L669.0,669.1 L671.0,669.5 L674.0,670.5 L676.0,671.0 L680.0,672.5 L683.0,673.7 L686.0,675.2 L689.0,676.6 L690.6,677.2 L693.0,678.1 L695.0,678.7 L700.0,679.5 L706.0,680.6 L710.0,681.7 L714.0,682.9 L718.0,683.6 L722.0,684.4 L726.0,685.1 L731.0,686.2 L734.0,686.8 L738.0,687.5 L742.0,688.0 L745.0,688.5 L748.0,688.7 L752.0,689.2 L757.0,689.9 L762.0,690.7 L768.0,691.3 L775.0,692.0 L780.0,692.3 L783.0,692.4 L786.0,692.5 L792.0,692.7 L800.0,693.0 L802.0,693.1 L810.0,693.2 L818.0,693.3 L827.0,693.3 L961.0,693.3 L964.0,693.3 L968.0,693.3 L971.0,693.2 L981.0,693.2 L984.0,693.1 L988.0,693.2 L994.0,693.2 L997.0,693.2 L1000.0,693.0 L1003.0,693.0 L1008.0,692.5 L1011.0,692.4 L1014.0,692.2 L1019.0,692.3 L1019.0,693.2 L1012.0,693.2 L1005.0,693.2 L998.0,693.3 L810.0,693.3 L796.0,693.3 L788.0,693.3 L778.0,693.2 L772.0,693.0 L764.0,692.9 L756.0,692.7 L748.0,692.4 L744.0,692.1 L740.0,691.7 L736.0,691.7 L730.0,691.2 L722.0,690.5 L717.0,690.1 L714.0,690.1 L708.0,689.7 L702.0,689.0 L698.0,688.3 L694.0,687.7 L690.0,686.8 L686.0,686.2 L677.0,685.1 L674.0,684.2 L671.0,683.3 L668.0,682.3 L666.0,681.5 L663.0,680.6 L660.0,679.7 L654.0,678.7 L650.0,677.8 L648.0,677.6 L645.0,677.2 L642.0,677.2 L640.0,676.9 L637.0,676.3 L635.0,676.0 L632.0,676.0 L629.0,676.2 L627.0,676.0 L624.0,675.5 L621.0,675.1 L618.0,674.8 L615.0,674.9 L612.0,674.5 L609.0,674.1 L606.0,673.5 L602.0,673.0 L598.0,672.4 L594.0,672.2 L590.0,671.7 L587.0,671.4 L583.0,671.3 L580.0,671.0 L577.0,670.5 L574.0,670.2 L570.0,670.1 L562.0,670.1 L559.0,670.3 L555.0,670.9 L553.0,671.0 L550.0,671.0 L547.0,670.9 L544.0,671.0 L540.0,670.9 L535.0,670.7 L533.0,670.8 L529.0,671.0 L525.0,671.4 L520.0,671.7 L515.0,672.1 L513.0,672.2 L508.0,672.2 L501.0,672.3 L497.0,672.7 L492.0,673.3 L488.0,673.6 L480.0,673.8 L478.0,673.9 L472.0,674.1 L469.0,674.3 L460.0,674.4 L455.0,674.5 L453.0,674.5 L450.0,674.6 L440.0,674.7 L436.0,674.8 L430.0,675.5 L426.0,676.0 L422.0,676.7 L419.0,677.3 L411.0,677.8 L402.0,678.0 L395.0,678.1 L390.0,678.4 L379.0,678.6 L370.0,678.8 L364.0,679.0 L355.0,679.3 L350.0,679.8 L345.0,680.2 L340.0,680.5 L334.0,680.8 L327.0,680.9 L324.0,681.2 L320.0,681.7 L316.0,682.4 L307.0,682.8 L302.0,683.4 L294.0,683.8 L286.0,684.0 L274.0,684.3 L270.0,684.6 L265.0,684.8 L262.0,685.1 L259.0,685.5 L250.0,685.7 L244.0,686.0 L239.0,686.2 L236.0,686.7 L232.0,686.9 L226.0,687.5 L220.0,688.0 L214.0,688.1 L206.0,688.7 L196.0,689.2 L190.0,689.4 L180.0,689.9 L178.0,690.2 L170.0,690.5 L160.0,690.8 L155.0,691.1 L150.0,691.4 L140.0,691.5 L130.0,691.7 L120.0,692.1 L110.0,692.4 L100.0,692.5 L90.0,692.6 L80.0,692.7 L70.0,693.0 L60.0,693.3 L50.0,693.3Z" fill="rgba(0,115,237,0.15)" stroke="none"/>
<path d="M50.0,693.3 L60.0,693.3 L70.0,693.0 L80.0,692.7 L90.0,692.6 L100.0,692.5 L110.0,692.4 L120.0,692.1 L130.0,691.7 L140.0,691.5 L150.0,691.4 L155.0,691.1 L160.0,690.8 L170.0,690.5 L178.0,690.2 L180.0,689.9 L190.0,689.4 L196.0,689.2 L206.0,688.7 L214.0,688.1 L220.0,688.0 L226.0,687.5 L232.0,686.9 L236.0,686.7 L239.0,686.2 L244.0,686.0 L250.0,685.7 L259.0,685.5 L262.0,685.1 L265.0,684.8 L270.0,684.6 L274.0,684.3 L286.0,684.0 L294.0,683.8 L302.0,683.4 L307.0,682.8 L316.0,682.4 L320.0,681.7 L324.0,681.2 L327.0,680.9 L334.0,680.8 L340.0,680.5 L345.0,680.2 L350.0,679.8 L355.0,679.3 L364.0,679.0 L370.0,678.8 L379.0,678.6 L390.0,678.4 L395.0,678.1 L402.0,678.0 L411.0,677.8 L419.0,677.3 L422.0,676.7 L426.0,676.0 L430.0,675.5 L436.0,674.8 L440.0,674.7 L450.0,674.6 L453.0,674.5 L455.0,674.5 L460.0,674.4 L469.0,674.3 L472.0,674.1 L478.0,673.9 L480.0,673.8 L488.0,673.6 L492.0,673.3 L497.0,672.7 L501.0,672.3 L508.0,672.2 L513.0,672.2 L515.0,672.1 L520.0,671.7 L525.0,671.4 L529.0,671.0 L533.0,670.8 L535.0,670.7 L540.0,670.9 L544.0,671.0 L547.0,670.9 L550.0,671.0 L553.0,671.0 L555.0,670.9 L559.0,670.3 L562.0,670.1 L570.0,670.1 L574.0,670.2 L577.0,670.5 L580.0,671.0 L583.0,671.3 L587.0,671.4 L590.0,671.7 L594.0,672.2 L598.0,672.4 L602.0,673.0 L606.0,673.5 L609.0,674.1 L612.0,674.5 L615.0,674.9 L618.0,674.8 L621.0,675.1 L624.0,675.5 L627.0,676.0 L629.0,676.2 L632.0,676.0 L635.0,676.0 L637.0,676.3 L640.0,676.9 L642.0,677.2 L645.0,677.2 L648.0,677.6 L650.0,677.8 L654.0,678.7 L660.0,679.7 L663.0,680.6 L666.0,681.5 L668.0,682.3 L671.0,683.3 L674.0,684.2 L677.0,685.1 L686.0,686.2 L690.0,686.8 L694.0,687.7 L698.0,688.3 L702.0,689.0 L708.0,689.7 L714.0,690.1 L717.0,690.1 L722.0,690.5 L730.0,691.2 L736.0,691.7 L740.0,691.7 L744.0,692.1 L748.0,692.4 L756.0,692.7 L764.0,692.9 L772.0,693.0 L778.0,693.2 L788.0,693.3 L796.0,693.3 L810.0,693.3 L998.0,693.3 L1005.0,693.2 L1012.0,693.2 L1019.0,693.2 L1019.0,693.3 L780.0,693.3 L760.0,693.3 L752.0,693.3 L748.0,693.2 L742.0,693.0 L734.0,692.9 L726.0,692.6 L720.0,692.3 L714.0,691.7 L708.0,691.2 L700.0,690.5 L696.0,690.1 L690.0,689.4 L686.0,688.9 L680.0,688.5 L677.0,688.0 L674.0,687.6 L669.0,687.0 L664.0,686.7 L659.0,686.2 L657.0,685.7 L652.0,684.7 L646.0,683.8 L642.0,682.9 L633.0,682.3 L630.0,681.7 L629.0,681.7 L628.0,681.3 L626.0,680.7 L623.0,680.2 L619.0,679.7 L615.0,679.6 L612.0,679.0 L608.0,678.5 L604.0,677.9 L600.0,677.2 L596.0,676.7 L593.0,676.4 L589.0,676.2 L586.0,676.1 L583.0,675.7 L580.0,675.5 L577.0,675.5 L574.0,675.9 L571.0,676.3 L568.0,676.0 L564.0,675.6 L560.0,675.4 L554.0,675.4 L550.0,675.3 L546.0,675.0 L543.0,674.9 L539.0,675.0 L534.0,675.0 L530.0,675.3 L525.0,675.4 L522.0,675.9 L516.0,676.2 L507.0,676.2 L504.0,676.1 L499.0,676.2 L494.0,676.4 L487.0,676.5 L483.0,676.7 L480.0,677.3 L473.0,677.3 L468.0,677.5 L465.0,677.8 L460.0,678.1 L454.0,678.4 L450.0,678.7 L444.0,678.8 L437.0,679.0 L430.0,679.3 L418.0,679.7 L414.0,679.9 L410.0,680.5 L406.0,681.1 L398.0,681.3 L390.0,681.6 L385.0,681.7 L380.0,681.8 L376.0,682.1 L369.0,682.5 L367.0,682.9 L360.0,683.2 L348.0,683.4 L336.0,683.6 L330.0,683.9 L322.0,684.2 L316.0,684.7 L310.0,685.1 L306.0,685.6 L298.0,686.0 L290.0,686.5 L282.0,687.0 L274.0,687.5 L266.0,688.0 L259.0,688.2 L254.0,688.5 L250.0,688.5 L240.0,689.0 L230.0,689.4 L220.0,689.7 L210.0,690.1 L200.0,690.5 L190.0,690.8 L180.0,691.2 L170.0,691.4 L160.0,691.9 L150.0,692.2 L140.0,692.4 L130.0,692.5 L120.0,692.6 L110.0,692.9 L100.0,693.0 L86.0,693.2 L80.0,693.3 L50.0,693.3Z" fill="rgba(115,237,237,0.15)" stroke="none"/>
<path d="M50.0,693.3 L80.0,693.3 L86.0,693.2 L100.0,693.0 L110.0,692.9 L120.0,692.6 L130.0,692.5 L140.0,692.4 L150.0,692.2 L160.0,691.9 L170.0,691.4 L180.0,691.2 L190.0,690.8 L200.0,690.5 L210.0,690.1 L220.0,689.7 L230.0,689.4 L240.0,689.0 L250.0,688.5 L254.0,688.5 L259.0,688.2 L266.0,688.0 L274.0,687.5 L282.0,687.0 L290.0,686.5 L298.0,686.0 L306.0,685.6 L310.0,685.1 L316.0,684.7 L322.0,684.2 L330.0,683.9 L336.0,683.6 L348.0,683.4 L360.0,683.2 L367.0,682.9 L369.0,682.5 L376.0,682.1 L380.0,681.8 L385.0,681.7 L390.0,681.6 L398.0,681.3 L406.0,681.1 L410.0,680.5 L414.0,679.9 L418.0,679.7 L430.0,679.3 L437.0,679.0 L444.0,678.8 L450.0,678.7 L454.0,678.4 L460.0,678.1 L465.0,677.8 L468.0,677.5 L473.0,677.3 L480.0,677.3 L483.0,676.7 L487.0,676.5 L494.0,676.4 L499.0,676.2 L504.0,676.1 L507.0,676.2 L516.0,676.2 L522.0,675.9 L525.0,675.4 L530.0,675.3 L534.0,675.0 L539.0,675.0 L543.0,674.9 L546.0,675.0 L550.0,675.3 L554.0,675.4 L560.0,675.4 L564.0,675.6 L568.0,676.0 L571.0,676.3 L574.0,675.9 L577.0,675.5 L580.0,675.5 L583.0,675.7 L586.0,676.1 L589.0,676.2 L593.0,676.4 L596.0,676.7 L600.0,677.2 L604.0,677.9 L608.0,678.5 L612.0,679.0 L615.0,679.6 L619.0,679.7 L623.0,680.2 L626.0,680.7 L628.0,681.3 L629.0,681.7 L630.0,681.7 L633.0,682.3 L642.0,682.9 L646.0,683.8 L652.0,684.7 L657.0,685.7 L659.0,686.2 L664.0,686.7 L669.0,687.0 L674.0,687.6 L677.0,688.0 L680.0,688.5 L686.0,688.9 L690.0,689.4 L696.0,690.1 L700.0,690.5 L708.0,691.2 L714.0,691.7 L720.0,692.3 L726.0,692.6 L734.0,692.9 L742.0,693.0 L748.0,693.2 L752.0,693.3 L760.0,693.3 L780.0,693.3 L1019.0,693.3 L1019.0,693.3 L740.0,693.3 L730.0,693.3 L720.0,693.3 L710.0,693.2 L700.0,693.0 L692.0,692.8 L684.0,692.6 L676.0,692.3 L670.0,692.0 L664.0,691.7 L658.0,691.3 L652.0,690.7 L646.0,690.3 L642.0,689.8 L634.0,689.5 L630.0,688.8 L629.0,688.7 L625.0,688.2 L620.0,687.7 L616.0,687.2 L612.0,686.9 L606.0,686.3 L602.0,685.9 L597.0,685.7 L592.0,685.3 L590.0,684.9 L586.0,684.5 L580.0,684.1 L575.0,683.7 L571.0,683.5 L568.0,683.0 L565.0,682.5 L562.0,682.0 L558.0,681.5 L555.0,681.3 L550.0,681.4 L542.0,681.6 L538.0,681.6 L532.0,681.3 L526.0,681.2 L518.0,681.3 L514.0,681.1 L508.0,681.1 L504.0,681.0 L498.0,681.2 L493.0,681.4 L488.0,681.7 L482.0,681.9 L476.0,682.3 L467.0,682.4 L466.0,682.5 L458.0,683.0 L450.0,683.3 L436.0,683.4 L430.0,683.8 L418.0,684.3 L410.0,684.7 L398.0,685.3 L390.0,685.9 L380.0,686.0 L366.0,686.2 L358.0,686.5 L352.0,686.7 L346.0,686.9 L334.0,687.1 L328.0,687.4 L322.0,687.8 L310.0,688.0 L300.0,688.3 L290.0,688.7 L280.0,688.9 L270.0,689.3 L264.0,689.8 L258.0,689.9 L252.0,690.1 L246.0,690.2 L240.0,690.4 L234.0,690.6 L228.0,690.7 L222.0,690.8 L216.0,691.0 L210.0,691.4 L200.0,691.7 L190.0,692.0 L180.0,692.3 L170.0,692.6 L160.0,692.8 L150.0,693.0 L136.0,693.2 L125.0,693.3 L112.0,693.3 L50.0,693.3Z" fill="rgba(0,237,0,0.15)" stroke="none"/>
<path d="M50.0,693.3 L112.0,693.3 L125.0,693.3 L136.0,693.2 L150.0,693.0 L160.0,692.8 L170.0,692.6 L180.0,692.3 L190.0,692.0 L200.0,691.7 L210.0,691.4 L216.0,691.0 L222.0,690.8 L228.0,690.7 L234.0,690.6 L240.0,690.4 L246.0,690.2 L252.0,690.1 L258.0,689.9 L264.0,689.8 L270.0,689.3 L280.0,688.9 L290.0,688.7 L300.0,688.3 L310.0,688.0 L322.0,687.8 L328.0,687.4 L334.0,687.1 L346.0,686.9 L352.0,686.7 L358.0,686.5 L366.0,686.2 L380.0,686.0 L390.0,685.9 L398.0,685.3 L410.0,684.7 L418.0,684.3 L430.0,683.8 L436.0,683.4 L450.0,683.3 L458.0,683.0 L466.0,682.5 L467.0,682.4 L476.0,682.3 L482.0,681.9 L488.0,681.7 L493.0,681.4 L498.0,681.2 L504.0,681.0 L508.0,681.1 L514.0,681.1 L518.0,681.3 L526.0,681.2 L532.0,681.3 L538.0,681.6 L542.0,681.6 L550.0,681.4 L555.0,681.3 L558.0,681.5 L562.0,682.0 L565.0,682.5 L568.0,683.0 L571.0,683.5 L575.0,683.7 L580.0,684.1 L586.0,684.5 L590.0,684.9 L592.0,685.3 L597.0,685.7 L602.0,685.9 L606.0,686.3 L612.0,686.9 L616.0,687.2 L620.0,687.7 L625.0,688.2 L629.0,688.7 L630.0,688.8 L634.0,689.5 L642.0,689.8 L646.0,690.3 L652.0,690.7 L658.0,691.3 L664.0,691.7 L670.0,692.0 L676.0,692.3 L684.0,692.6 L692.0,692.8 L700.0,693.0 L710.0,693.2 L720.0,693.3 L730.0,693.3 L740.0,693.3 L1019.0,693.3 L1019.0,693.3 L730.0,693.3 L720.0,693.3 L708.0,693.3 L696.0,693.2 L684.0,693.0 L676.0,692.8 L668.0,692.6 L660.0,692.4 L652.0,692.0 L644.0,691.7 L636.0,691.2 L628.0,690.5 L622.0,690.1 L614.0,689.7 L612.0,689.0 L609.0,688.6 L606.0,688.1 L600.0,687.7 L595.0,687.4 L590.0,687.0 L585.0,686.7 L581.0,686.3 L577.0,686.2 L572.0,686.0 L567.0,685.6 L564.0,685.5 L560.0,685.1 L554.0,684.6 L548.0,684.2 L544.0,683.8 L539.0,683.4 L536.0,683.4 L531.0,683.1 L526.0,683.0 L522.0,682.9 L517.0,683.0 L512.0,682.8 L508.0,682.9 L501.0,683.1 L497.0,683.4 L493.0,683.3 L490.0,683.4 L483.0,683.3 L476.0,683.4 L468.0,683.5 L460.0,683.7 L454.0,684.1 L446.0,684.2 L440.0,684.7 L430.0,685.1 L418.0,685.6 L410.0,686.0 L402.0,686.7 L390.0,686.9 L382.0,687.0 L370.0,687.4 L356.0,687.8 L350.0,688.0 L338.0,688.3 L330.0,688.6 L318.0,688.9 L308.0,689.3 L294.0,689.7 L282.0,689.9 L277.5,690.0 L264.0,690.2 L259.0,690.2 L254.0,690.3 L251.0,690.5 L248.0,690.7 L245.0,690.9 L242.0,691.2 L240.0,691.3 L236.0,691.4 L230.0,691.5 L225.0,691.6 L220.0,691.7 L215.0,691.8 L210.0,691.9 L200.0,692.2 L190.0,692.5 L180.0,692.6 L172.0,692.8 L164.0,693.1 L150.0,693.3 L50.0,693.3Z" fill="rgba(237,237,0,0.15)" stroke="none"/>
<path d="M50.0,693.3 L150.0,693.3 L164.0,693.1 L172.0,692.8 L180.0,692.6 L190.0,692.5 L200.0,692.2 L210.0,691.9 L215.0,691.8 L220.0,691.7 L225.0,691.6 L230.0,691.5 L236.0,691.4 L240.0,691.3 L242.0,691.2 L245.0,690.9 L248.0,690.7 L251.0,690.5 L254.0,690.3 L259.0,690.2 L264.0,690.2 L277.5,690.0 L282.0,689.9 L294.0,689.7 L308.0,689.3 L318.0,688.9 L330.0,688.6 L338.0,688.3 L350.0,688.0 L356.0,687.8 L370.0,687.4 L382.0,687.0 L390.0,686.9 L402.0,686.7 L410.0,686.0 L418.0,685.6 L430.0,685.1 L440.0,684.7 L446.0,684.2 L454.0,684.1 L460.0,683.7 L468.0,683.5 L476.0,683.4 L483.0,683.3 L490.0,683.4 L493.0,683.3 L497.0,683.4 L501.0,683.1 L508.0,682.9 L512.0,682.8 L517.0,683.0 L522.0,682.9 L526.0,683.0 L531.0,683.1 L536.0,683.4 L539.0,683.4 L544.0,683.8 L548.0,684.2 L554.0,684.6 L560.0,685.1 L564.0,685.5 L567.0,685.6 L572.0,686.0 L577.0,686.2 L581.0,686.3 L585.0,686.7 L590.0,687.0 L595.0,687.4 L600.0,687.7 L606.0,688.1 L609.0,688.6 L612.0,689.0 L614.0,689.7 L622.0,690.1 L628.0,690.5 L636.0,691.2 L644.0,691.7 L652.0,692.0 L660.0,692.4 L668.0,692.6 L676.0,692.8 L684.0,693.0 L696.0,693.2 L708.0,693.3 L720.0,693.3 L730.0,693.3 L1019.0,693.3 L1019.0,693.3 L730.0,693.3 L720.0,693.3 L700.0,693.3 L684.0,693.2 L674.0,693.1 L664.0,693.0 L654.0,692.8 L644.0,692.5 L639.0,692.4 L635.0,692.4 L628.0,692.1 L622.0,691.7 L616.0,691.3 L613.0,691.0 L610.0,690.5 L607.0,690.0 L603.0,689.9 L600.0,690.1 L597.0,690.2 L594.0,690.1 L590.0,689.6 L586.0,689.0 L584.0,688.8 L581.0,688.5 L578.0,688.4 L576.0,688.5 L573.0,688.9 L571.0,688.9 L566.0,688.5 L560.0,688.0 L557.0,687.9 L555.0,688.1 L551.0,687.9 L546.0,687.6 L542.0,687.5 L539.0,687.5 L536.0,687.4 L532.0,686.9 L528.0,686.3 L523.0,685.7 L520.0,685.4 L517.0,685.4 L512.0,685.7 L508.0,685.4 L502.0,684.9 L497.0,684.7 L494.0,684.7 L491.0,685.0 L488.0,685.4 L482.0,685.3 L476.0,685.3 L470.0,685.3 L466.0,685.4 L462.0,685.7 L459.0,685.8 L452.0,686.2 L446.0,686.3 L438.0,686.8 L430.0,686.9 L422.0,687.3 L417.0,687.4 L411.0,687.7 L406.0,687.8 L400.0,688.0 L390.0,688.0 L386.0,688.1 L376.0,688.1 L370.0,688.8 L367.0,689.1 L360.0,689.2 L356.0,689.4 L346.0,689.4 L339.0,689.5 L326.0,689.5 L322.0,689.6 L318.0,689.7 L315.0,690.0 L310.0,690.2 L306.9,690.4 L290.0,690.4 L278.1,690.3 L273.1,690.8 L271.2,691.2 L265.0,691.4 L262.5,691.6 L246.2,691.6 L243.8,691.7 L235.6,691.7 L233.1,692.4 L230.0,692.5 L211.9,692.6 L209.4,692.8 L203.8,692.9 L201.2,693.0 L187.5,693.0 L182.5,693.2 L174.4,693.3 L172.0,693.3 L50.0,693.3Z" fill="rgba(247,5,22,0.12)" stroke="none"/>
<path d="M50.0,693.3 L172.0,693.3 L174.4,693.3 L182.5,693.2 L187.5,693.0 L201.2,693.0 L203.8,692.9 L209.4,692.8 L211.9,692.6 L230.0,692.5 L233.1,692.4 L235.6,691.7 L243.8,691.7 L246.2,691.6 L262.5,691.6 L265.0,691.4 L271.2,691.2 L273.1,690.8 L278.1,690.3 L290.0,690.4 L306.9,690.4 L310.0,690.2 L315.0,690.0 L318.0,689.7 L322.0,689.6 L326.0,689.5 L339.0,689.5 L346.0,689.4 L356.0,689.4 L360.0,689.2 L367.0,689.1 L370.0,688.8 L376.0,688.1 L386.0,688.1 L390.0,688.0 L400.0,688.0 L406.0,687.8 L411.0,687.7 L417.0,687.4 L422.0,687.3 L430.0,686.9 L438.0,686.8 L446.0,686.3 L452.0,686.2 L459.0,685.8 L462.0,685.7 L466.0,685.4 L470.0,685.3 L476.0,685.3 L482.0,685.3 L488.0,685.4 L491.0,685.0 L494.0,684.7 L497.0,684.7 L502.0,684.9 L508.0,685.4 L512.0,685.7 L517.0,685.4 L520.0,685.4 L523.0,685.7 L528.0,686.3 L532.0,686.9 L536.0,687.4 L539.0,687.5 L542.0,687.5 L546.0,687.6 L551.0,687.9 L555.0,688.1 L557.0,687.9 L560.0,688.0 L566.0,688.5 L571.0,688.9 L573.0,688.9 L576.0,688.5 L578.0,688.4 L581.0,688.5 L584.0,688.8 L586.0,689.0 L590.0,689.6 L594.0,690.1 L597.0,690.2 L600.0,690.1 L603.0,689.9 L607.0,690.0 L610.0,690.5 L613.0,691.0 L616.0,691.3 L622.0,691.7 L628.0,692.1 L635.0,692.4 L639.0,692.4 L644.0,692.5 L654.0,692.8 L664.0,693.0 L674.0,693.1 L684.0,693.2 L700.0,693.3 L720.0,693.3 L730.0,693.3 L1019.0,693.3" fill="none" stroke="rgba(237,0,0,0.4)" stroke-width="2" stroke-linejoin="round"/>
<path d="M50.0,693.3 L92.0,693.3 L105.0,693.3 L118.0,693.2 L128.0,693.2 L135.0,693.1 L145.0,692.9 L152.5,692.7 L163.8,692.4 L176.2,692.0 L185.0,691.8 L190.0,691.6 L200.0,691.2 L210.0,690.9 L220.0,690.6 L223.0,690.5 L228.0,690.4 L231.0,690.3 L234.0,690.2 L240.0,690.0 L245.0,689.8 L250.0,689.6 L260.0,689.2 L270.0,688.8 L278.0,688.2 L290.0,687.9 L305.0,687.5 L311.0,687.2 L322.0,686.9 L325.0,686.7 L330.0,686.5 L340.0,686.1 L350.0,685.6 L356.0,685.4 L366.0,684.9 L375.0,684.5 L382.0,684.4 L395.0,683.9 L398.0,683.6 L408.0,683.3 L414.0,683.0 L429.0,682.3 L440.0,681.8 L450.0,681.5 L462.0,681.1 L472.0,680.8 L478.0,680.5 L490.0,680.3 L500.0,680.3 L509.0,680.3 L522.0,680.0 L527.0,679.8 L532.0,679.6 L539.0,679.5 L543.6,679.5 L548.0,679.7 L554.0,680.0 L560.0,680.2 L566.0,680.6 L571.0,680.9 L576.0,681.1 L580.0,681.4 L583.0,681.7 L586.0,682.1 L594.0,682.6 L602.0,683.2 L607.0,683.8 L612.0,684.3 L618.0,684.8 L624.0,685.4 L631.0,686.3 L638.0,687.0 L645.0,687.7 L651.0,688.5 L655.0,689.0 L656.0,689.1 L662.0,689.8 L669.0,690.6 L676.0,691.1 L684.0,691.6 L692.0,692.1 L700.0,692.5 L708.0,692.8 L714.0,693.0 L722.0,693.2 L730.0,693.3 L740.0,693.3 L745.0,693.3 L1019.0,693.3" fill="none" stroke="rgba(0,237,0,0.4)" stroke-width="2" stroke-linejoin="round"/>
<path d="M50.0,692.0 L53.8,691.9 L57.5,691.9 L66.2,692.2 L71.2,692.2 L87.5,692.4 L97.5,691.9 L107.5,691.5 L111.0,691.1 L117.0,690.7 L124.0,690.1 L132.0,689.6 L140.0,689.6 L150.6,689.7 L158.0,689.3 L164.0,689.2 L169.6,688.8 L193.6,688.7 L198.0,688.0 L203.0,687.7 L206.0,687.2 L209.0,686.7 L215.0,686.2 L217.0,685.8 L220.0,685.5 L227.0,685.4 L233.0,684.9 L236.0,684.7 L243.0,684.2 L247.0,683.8 L249.0,683.3 L252.0,683.0 L257.0,682.9 L259.6,682.7 L262.0,682.2 L267.0,682.0 L272.0,681.6 L275.0,681.2 L279.0,680.5 L282.0,679.9 L284.0,679.7 L289.0,679.4 L291.6,679.2 L298.0,679.0 L310.0,678.9 L318.0,678.8 L325.0,678.7 L328.4,678.1 L331.0,678.0 L339.0,677.9 L347.0,677.8 L351.0,677.3 L355.0,676.5 L358.0,676.4 L360.0,675.7 L363.0,674.9 L368.0,674.7 L379.0,674.5 L382.0,674.1 L386.0,674.0 L390.0,673.8 L398.0,673.7 L406.0,673.7 L409.0,673.5 L414.0,673.4 L419.0,673.3 L422.0,673.2 L430.0,672.9 L438.0,672.8 L445.0,672.7 L448.0,672.0 L451.0,671.9 L454.0,671.7 L456.0,671.7 L459.0,671.4 L462.0,671.2 L467.0,671.0 L472.0,671.0 L476.0,670.9 L480.0,670.9 L485.0,670.9 L490.0,670.9 L493.0,670.1 L501.0,670.1 L504.0,669.9 L507.0,669.3 L510.0,668.8 L512.0,668.4 L517.0,667.7 L520.0,667.6 L525.0,667.2 L528.0,667.1 L532.0,666.5 L536.0,665.9 L538.0,665.8 L541.0,665.6 L544.0,664.9 L547.0,664.4 L549.0,664.3 L551.0,664.2 L554.0,664.3 L557.0,664.4 L560.0,664.6 L564.0,665.3 L568.0,665.9 L571.0,666.1 L575.0,666.3 L578.0,666.5 L581.0,667.0 L586.0,667.1 L589.0,667.1 L592.0,667.1 L595.0,667.2 L599.0,667.4 L602.0,667.5 L604.4,667.8 L607.0,668.5 L610.0,669.1 L613.0,668.8 L618.0,668.3 L623.0,668.3 L626.0,668.6 L629.0,668.7 L631.0,668.6 L633.6,668.8 L636.0,669.5 L639.0,669.8 L642.0,669.8 L644.0,669.4 L647.0,669.2 L652.0,669.2 L655.0,669.1 L658.0,668.7 L660.0,668.9 L663.0,668.8 L666.0,668.7 L669.0,669.1 L671.0,669.5 L674.0,670.5 L676.0,671.0 L680.0,672.5 L683.0,673.7 L686.0,675.2 L689.0,676.6 L690.6,677.2 L693.0,678.1 L695.0,678.7 L700.0,679.5 L706.0,680.6 L710.0,681.7 L714.0,682.9 L718.0,683.6 L722.0,684.4 L726.0,685.1 L731.0,686.2 L734.0,686.8 L738.0,687.5 L742.0,688.0 L745.0,688.5 L748.0,688.7 L752.0,689.2 L757.0,689.9 L762.0,690.7 L768.0,691.3 L775.0,692.0 L780.0,692.3 L783.0,692.4 L786.0,692.5 L792.0,692.7 L800.0,693.0 L802.0,693.1 L810.0,693.2 L818.0,693.3 L827.0,693.3 L961.0,693.3 L964.0,693.3 L968.0,693.3 L971.0,693.2 L981.0,693.2 L984.0,693.1 L988.0,693.2 L994.0,693.2 L997.0,693.2 L1000.0,693.0 L1003.0,693.0 L1008.0,692.5 L1011.0,692.4 L1014.0,692.2 L1019.0,692.3" fill="none" stroke="rgba(0,0,237,0.4)" stroke-width="2" stroke-linejoin="round"/>
<path d="M538.40,680.08 L540.66,682.34 L542.92,680.08 L540.66,677.82 L542.92,675.56 L540.66,673.30 L538.40,675.56 L536.14,673.30 L533.88,675.56 L536.14,677.82 L533.88,680.08 L536.14,682.34Z" fill="rgba(0,237,0,0.8)"/>
</g>
<rect x="47.5" y="671.5" width="4" height="16" rx="0.4" fill="#fff" stroke="#444" stroke-width="1"/>
<rect x="1017.5" y="671.5" width="4" height="16" rx="0.4" fill="#fff" stroke="#444" stroke-width="1"/>
<text x="29.7" y="83.8" font-size="12.5" text-anchor="start" fill="#2a3f5f" textLength="15.3" lengthAdjust="spacing">30</text>
<text x="29.7" y="169.9" font-size="12.5" text-anchor="start" fill="#2a3f5f" textLength="15.3" lengthAdjust="spacing">25</text>
<text x="29.7" y="256.0" font-size="12.5" text-anchor="start" fill="#2a3f5f" textLength="15.3" lengthAdjust="spacing">20</text>
<text x="29.7" y="342.1" font-size="12.5" text-anchor="start" fill="#2a3f5f" textLength="15.3" lengthAdjust="spacing">15</text>
<text x="29.7" y="428.2" font-size="12.5" text-anchor="start" fill="#2a3f5f" textLength="15.3" lengthAdjust="spacing">10</text>
<text x="37.4" y="514.3" font-size="12.5" text-anchor="start" fill="#2a3f5f" textLength="7.6" lengthAdjust="spacing">5</text>
<text x="37.4" y="600.4" font-size="12.5" text-anchor="start" fill="#2a3f5f" textLength="7.6" lengthAdjust="spacing">0</text>
<text x="113.2" y="644.8" font-size="12.5" text-anchor="start" fill="#2a3f5f" textLength="38.7" lengthAdjust="spacing">Nov  1</text>
<text x="276.2" y="644.8" font-size="12.5" text-anchor="start" fill="#2a3f5f" textLength="36.6" lengthAdjust="spacing">Jan  1</text>
<text x="433.8" y="644.8" font-size="12.5" text-anchor="start" fill="#2a3f5f" textLength="39.4" lengthAdjust="spacing">Mar  1</text>
<text x="595.3" y="644.8" font-size="12.5" text-anchor="start" fill="#2a3f5f" textLength="40.4" lengthAdjust="spacing">May  1</text>
<text x="762.0" y="644.8" font-size="12.5" text-anchor="start" fill="#2a3f5f" textLength="30.9" lengthAdjust="spacing">Jul  1</text>
<text x="923.3" y="644.8" font-size="12.5" text-anchor="start" fill="#2a3f5f" textLength="38.4" lengthAdjust="spacing">Sep  1</text>
<text transform="translate(14,437.7) rotate(-90)" font-size="14.5" fill="#2a3f5f" textLength="197.5" lengthAdjust="spacing">Snow Water Equivalent (in.)</text>
<text x="471.2" y="45.7" font-size="9.7" text-anchor="start" fill="#2a3f5f" textLength="126.4" lengthAdjust="spacing">Link to data: CSV / JSON</text>
<rect x="55" y="25" width="84.8" height="18.8" rx="3" fill="#EDEFF2"/>
<text x="60.0" y="37.8" font-size="12.5" text-anchor="start" fill="#2a3f5f" textLength="75.6" lengthAdjust="spacing">Reset Range</text>
<rect x="65.5" y="79.5" width="176" height="82" fill="rgba(255,255,255,0.6)" stroke="#A9A9A9" stroke-width="1" shape-rendering="crispEdges"/>
<text x="68.2" y="93.6" font-size="12.5" text-anchor="start" fill="#2a3f5f" textLength="159.3" lengthAdjust="spacing">Current as of 12/26/2025:</text>
<text x="68.2" y="109.2" font-size="12.5" text-anchor="start" fill="#2a3f5f" textLength="117.4" lengthAdjust="spacing">% of Median - 52%</text>
<text x="68.2" y="124.8" font-size="12.5" text-anchor="start" fill="#2a3f5f" textLength="134.3" lengthAdjust="spacing">% Median Peak - 17%</text>
<text x="68.2" y="140.4" font-size="12.5" text-anchor="start" fill="#2a3f5f" textLength="170.4" lengthAdjust="spacing">Days Until Median Peak - 98</text>
<text x="68.2" y="156.0" font-size="12.5" text-anchor="start" fill="#2a3f5f" textLength="79.7" lengthAdjust="spacing">Percentile - 0</text>
<text x="1040.0" y="46.2" font-size="9.7" text-anchor="start" fill="#2a3f5f" textLength="57.2" lengthAdjust="spacing">Station List</text>
<rect x="1039" y="51" width="155" height="576" fill="#fff" stroke="#DDDDDD" stroke-width="2"/>
<g opacity="1"><path d="M1060.30,68.76 L1062.56,71.02 L1064.82,68.76 L1062.56,66.50 L1064.82,64.24 L1062.56,61.98 L1060.30,64.24 L1058.04,61.98 L1055.78,64.24 L1058.04,66.50 L1055.78,68.76 L1058.04,71.02Z" fill="rgba(0,237,0,0.8)"/><text x="1080.6" y="70.8" font-size="12.5" text-anchor="start" fill="#2a3f5f" textLength="107.0" lengthAdjust="spacing">Median Peak SWE</text></g>
<g opacity="1"><line x1="1045.4" y1="85.5" x2="1075.2" y2="85.5" stroke="rgba(0,0,237,0.4)" stroke-width="2"/><text x="1080.6" y="89.8" font-size="12.5" text-anchor="start" fill="#2a3f5f" textLength="24.5" lengthAdjust="spacing">Max</text></g>
<g opacity="0.5"><line x1="1045.4" y1="104.5" x2="1075.2" y2="104.5" stroke="rgba(0,237,0,0.4)" stroke-width="2" stroke-dasharray="9,9"/><text x="1080.6" y="108.8" font-size="12.5" text-anchor="start" fill="#2a3f5f" textLength="82.7" lengthAdjust="spacing">Median (POR)</text></g>
<g opacity="1"><line x1="1045.4" y1="123.5" x2="1075.2" y2="123.5" stroke="rgba(0,237,0,0.4)" stroke-width="2"/><text x="1080.6" y="127.8" font-size="12.5" text-anchor="start" fill="#2a3f5f" textLength="99.9" lengthAdjust="spacing">Median ('91-'20)</text></g>
<g opacity="1"><line x1="1045.4" y1="142.5" x2="1075.2" y2="142.5" stroke="rgba(237,0,0,0.4)" stroke-width="2"/><text x="1080.6" y="146.8" font-size="12.5" text-anchor="start" fill="#2a3f5f" textLength="20.6" lengthAdjust="spacing">Min</text></g>
<g opacity="1"><rect x="1045.4" y="158.5" width="29.8" height="6" fill="rgba(0,237,0,0.15)"/><text x="1080.6" y="165.8" font-size="12.5" text-anchor="start" fill="#2a3f5f" textLength="88.2" lengthAdjust="spacing">Stats. Shading</text></g>
<g opacity="1"><line x1="1045.4" y1="180.5" x2="1075.2" y2="180.5" stroke="#000" stroke-width="2"/><circle cx="1060.3" cy="180.5" r="1" fill="#000"/><text x="1080.6" y="184.8" font-size="12.5" text-anchor="start" fill="#2a3f5f" textLength="99.9" lengthAdjust="spacing">2026 (114 sites)</text></g>
<g opacity="0.5"><line x1="1045.4" y1="199.5" x2="1075.2" y2="199.5" stroke="#19D3F3" stroke-width="2"/><circle cx="1060.3" cy="199.5" r="1" fill="#19D3F3"/><text x="1080.6" y="203.8" font-size="12.5" text-anchor="start" fill="#2a3f5f" textLength="99.9" lengthAdjust="spacing">2025 (114 sites)</text></g>
<g opacity="0.5"><line x1="1045.4" y1="218.5" x2="1075.2" y2="218.5" stroke="#FFA15A" stroke-width="2"/><circle cx="1060.3" cy="218.5" r="1" fill="#FFA15A"/><text x="1080.6" y="222.8" font-size="12.5" text-anchor="start" fill="#2a3f5f" textLength="99.9" lengthAdjust="spacing">2024 (114 sites)</text></g>
<g opacity="0.5"><line x1="1045.4" y1="237.5" x2="1075.2" y2="237.5" stroke="#AB63FA" stroke-width="2"/><circle cx="1060.3" cy="237.5" r="1" fill="#AB63FA"/><text x="1080.6" y="241.8" font-size="12.5" text-anchor="start" fill="#2a3f5f" textLength="99.9" lengthAdjust="spacing">2023 (114 sites)</text></g>
<g opacity="0.5"><line x1="1045.4" y1="256.5" x2="1075.2" y2="256.5" stroke="#00CC96" stroke-width="2"/><circle cx="1060.3" cy="256.5" r="1" fill="#00CC96"/><text x="1080.6" y="260.8" font-size="12.5" text-anchor="start" fill="#2a3f5f" textLength="99.9" lengthAdjust="spacing">2022 (114 sites)</text></g>
<g opacity="0.5"><line x1="1045.4" y1="275.5" x2="1075.2" y2="275.5" stroke="#EF553B" stroke-width="2"/><circle cx="1060.3" cy="275.5" r="1" fill="#EF553B"/><text x="1080.6" y="279.8" font-size="12.5" text-anchor="start" fill="#2a3f5f" textLength="99.9" lengthAdjust="spacing">2021 (114 sites)</text></g>
<g opacity="0.5"><line x1="1045.4" y1="294.5" x2="1075.2" y2="294.5" stroke="#636EFA" stroke-width="2"/><circle cx="1060.3" cy="294.5" r="1" fill="#636EFA"/><text x="1080.6" y="298.8" font-size="12.5" text-anchor="start" fill="#2a3f5f" textLength="99.9" lengthAdjust="spacing">2020 (114 sites)</text></g>
<g opacity="0.5"><line x1="1045.4" y1="313.5" x2="1075.2" y2="313.5" stroke="#FECB52" stroke-width="2"/><circle cx="1060.3" cy="313.5" r="1" fill="#FECB52"/><text x="1080.6" y="317.8" font-size="12.5" text-anchor="start" fill="#2a3f5f" textLength="99.9" lengthAdjust="spacing">2019 (114 sites)</text></g>
<g opacity="0.5"><line x1="1045.4" y1="332.5" x2="1075.2" y2="332.5" stroke="#FF97FF" stroke-width="2"/><circle cx="1060.3" cy="332.5" r="1" fill="#FF97FF"/><text x="1080.6" y="336.8" font-size="12.5" text-anchor="start" fill="#2a3f5f" textLength="99.9" lengthAdjust="spacing">2018 (113 sites)</text></g>
<g opacity="0.5"><line x1="1045.4" y1="351.5" x2="1075.2" y2="351.5" stroke="#B6E880" stroke-width="2"/><circle cx="1060.3" cy="351.5" r="1" fill="#B6E880"/><text x="1080.6" y="355.8" font-size="12.5" text-anchor="start" fill="#2a3f5f" textLength="99.9" lengthAdjust="spacing">2017 (114 sites)</text></g>
<g opacity="0.5"><line x1="1045.4" y1="370.5" x2="1075.2" y2="370.5" stroke="#FF6692" stroke-width="2"/><circle cx="1060.3" cy="370.5" r="1" fill="#FF6692"/><text x="1080.6" y="374.8" font-size="12.5" text-anchor="start" fill="#2a3f5f" textLength="99.9" lengthAdjust="spacing">2016 (114 sites)</text></g>
<g opacity="0.5"><line x1="1045.4" y1="389.5" x2="1075.2" y2="389.5" stroke="#19D3F3" stroke-width="2"/><circle cx="1060.3" cy="389.5" r="1" fill="#19D3F3"/><text x="1080.6" y="393.8" font-size="12.5" text-anchor="start" fill="#2a3f5f" textLength="99.9" lengthAdjust="spacing">2015 (114 sites)</text></g>
<g opacity="0.5"><line x1="1045.4" y1="408.5" x2="1075.2" y2="408.5" stroke="#FFA15A" stroke-width="2"/><circle cx="1060.3" cy="408.5" r="1" fill="#FFA15A"/><text x="1080.6" y="412.8" font-size="12.5" text-anchor="start" fill="#2a3f5f" textLength="99.9" lengthAdjust="spacing">2014 (114 sites)</text></g>
<g opacity="0.5"><line x1="1045.4" y1="427.5" x2="1075.2" y2="427.5" stroke="#AB63FA" stroke-width="2"/><circle cx="1060.3" cy="427.5" r="1" fill="#AB63FA"/><text x="1080.6" y="431.8" font-size="12.5" text-anchor="start" fill="#2a3f5f" textLength="99.9" lengthAdjust="spacing">2013 (114 sites)</text></g>
<g opacity="0.5"><line x1="1045.4" y1="446.5" x2="1075.2" y2="446.5" stroke="#00CC96" stroke-width="2"/><circle cx="1060.3" cy="446.5" r="1" fill="#00CC96"/><text x="1080.6" y="450.8" font-size="12.5" text-anchor="start" fill="#2a3f5f" textLength="99.9" lengthAdjust="spacing">2012 (114 sites)</text></g>
<g opacity="0.5"><line x1="1045.4" y1="465.5" x2="1075.2" y2="465.5" stroke="#EF553B" stroke-width="2"/><circle cx="1060.3" cy="465.5" r="1" fill="#EF553B"/><text x="1080.6" y="469.8" font-size="12.5" text-anchor="start" fill="#2a3f5f" textLength="99.9" lengthAdjust="spacing">2011 (114 sites)</text></g>
<g opacity="0.5"><line x1="1045.4" y1="484.5" x2="1075.2" y2="484.5" stroke="#636EFA" stroke-width="2"/><circle cx="1060.3" cy="484.5" r="1" fill="#636EFA"/><text x="1080.6" y="488.8" font-size="12.5" text-anchor="start" fill="#2a3f5f" textLength="99.9" lengthAdjust="spacing">2010 (105 sites)</text></g>
<g opacity="0.5"><line x1="1045.4" y1="503.5" x2="1075.2" y2="503.5" stroke="#FECB52" stroke-width="2"/><circle cx="1060.3" cy="503.5" r="1" fill="#FECB52"/><text x="1080.6" y="507.8" font-size="12.5" text-anchor="start" fill="#2a3f5f" textLength="92.3" lengthAdjust="spacing">2009 (99 sites)</text></g>
<g opacity="0.5"><line x1="1045.4" y1="522.5" x2="1075.2" y2="522.5" stroke="#FF97FF" stroke-width="2"/><circle cx="1060.3" cy="522.5" r="1" fill="#FF97FF"/><text x="1080.6" y="526.8" font-size="12.5" text-anchor="start" fill="#2a3f5f" textLength="92.3" lengthAdjust="spacing">2008 (99 sites)</text></g>
<g opacity="0.5"><line x1="1045.4" y1="541.5" x2="1075.2" y2="541.5" stroke="#B6E880" stroke-width="2"/><circle cx="1060.3" cy="541.5" r="1" fill="#B6E880"/><text x="1080.6" y="545.8" font-size="12.5" text-anchor="start" fill="#2a3f5f" textLength="92.3" lengthAdjust="spacing">2007 (96 sites)</text></g>
<g opacity="0.5"><line x1="1045.4" y1="560.5" x2="1075.2" y2="560.5" stroke="#FF6692" stroke-width="2"/><circle cx="1060.3" cy="560.5" r="1" fill="#FF6692"/><text x="1080.6" y="564.8" font-size="12.5" text-anchor="start" fill="#2a3f5f" textLength="92.3" lengthAdjust="spacing">2006 (96 sites)</text></g>
<g opacity="0.5"><line x1="1045.4" y1="579.5" x2="1075.2" y2="579.5" stroke="#19D3F3" stroke-width="2"/><circle cx="1060.3" cy="579.5" r="1" fill="#19D3F3"/><text x="1080.6" y="583.8" font-size="12.5" text-anchor="start" fill="#2a3f5f" textLength="92.3" lengthAdjust="spacing">2005 (96 sites)</text></g>
<g opacity="0.5"><line x1="1045.4" y1="598.5" x2="1075.2" y2="598.5" stroke="#FFA15A" stroke-width="2"/><circle cx="1060.3" cy="598.5" r="1" fill="#FFA15A"/><text x="1080.6" y="602.8" font-size="12.5" text-anchor="start" fill="#2a3f5f" textLength="92.3" lengthAdjust="spacing">2004 (92 sites)</text></g>
<g opacity="0.5"><line x1="1045.4" y1="617.5" x2="1075.2" y2="617.5" stroke="#AB63FA" stroke-width="2"/><circle cx="1060.3" cy="617.5" r="1" fill="#AB63FA"/><text x="1080.6" y="621.8" font-size="12.5" text-anchor="start" fill="#2a3f5f" textLength="92.3" lengthAdjust="spacing">2003 (92 sites)</text></g>
<text x="1082" y="666.6" font-family="Liberation Serif, serif" font-weight="bold" font-size="35.5" fill="#5276B8" stroke="none" textLength="82" lengthAdjust="spacingAndGlyphs">USDA</text>
<g fill="#3F7A6A">
<path d="M1083,687.9 Q1118,676.5 1162.9,675.9 L1162.9,700 L1083,700Z"/>
<path d="M1083.9,684.4 Q1116,671.5 1162.9,670.2 L1162.9,673.1 Q1116,674.5 1083.9,684.9Z"/>
<path d="M1083,670.1 L1109,673.2 L1083,672.7Z"/>
<path d="M1083,675.6 L1101.6,675 L1083,678.5Z"/>
</g>
</g>
</svg></body></html>
